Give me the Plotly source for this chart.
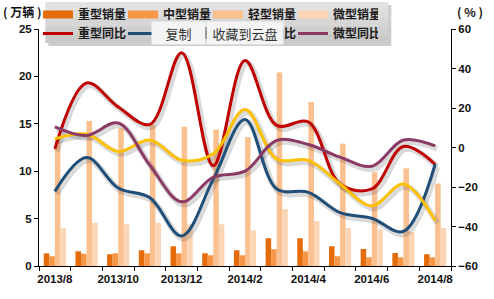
import plotly.graph_objects as go

months = ["2013/8", "2013/9", "2013/10", "2013/11", "2013/12", "2014/1", "2014/2",
          "2014/3", "2014/4", "2014/5", "2014/6", "2014/7", "2014/8"]

# sales (万辆)
heavy_sales = [1.34, 1.55, 1.24, 1.66, 2.08, 1.34, 1.66, 2.93, 2.93, 2.08, 1.80, 1.37, 1.24]
medium_sales = [1.03, 1.30, 1.34, 1.34, 1.34, 1.13, 1.13, 1.77, 1.55, 1.03, 0.92, 0.92, 0.92]
light_sales = [13.5, 15.3, 14.5, 14.9, 14.7, 14.4, 13.6, 20.4, 17.3, 12.9, 9.9, 10.3, 8.7]
micro_sales = [3.98, 4.55, 4.40, 4.55, 4.40, 4.40, 3.77, 6.00, 4.76, 4.00, 3.88, 3.60, 4.00]

# year-on-year (%)
heavy_yoy = [-0.7, 32.7, 20.5, 11.7, 48.0, -9.2, 44.0, 11.2, 12.9, -18.5, -21.0, 0.5, -8.5]
medium_yoy = [-22.2, -5.1, -20.5, -25.5, -44.8, -16.0, 14.2, -21.0, -22.7, -33.0, -35.8, -42.5, -8.5]
light_yoy = [4.4, 6.8, -2.0, 3.8, -6.4, -3.2, 19.3, -5.8, -6.5, -18.5, -29.5, -18.5, -37.0]
micro_yoy = [10.5, 6.1, 12.4, -9.0, -27.5, -15.0, -12.0, 3.6, 1.5, -4.9, -9.5, 3.8, 0.8]

sales_names = ["重型销量", "中型销量", "轻型销量", "微型销量"]
yoy_names = ["重型同比", "中型同比", "轻型同比", "微型同比"]
bar_colors = ["#E46C0A", "#F79646", "#FAC090", "#FCD5B5"]
line_colors = ["#C00000", "#1F4E79", "#FFC000", "#8B3A66"]

x = list(range(len(months)))
W, H = 494, 299
L, R, T, B = 38.7, 450.7, 29.0, 265.7
pw, ph = R - L, B - T

def px(v):
    return (v - L) / pw

def py(v):
    return (B - v) / ph

FONT = "Liberation Sans, Arial, sans-serif"
CJK = "Noto Sans CJK SC"

fig = go.Figure()

# bars
for name, vals, col in zip(sales_names, [heavy_sales, medium_sales, light_sales, micro_sales], bar_colors):
    fig.add_trace(go.Bar(x=x, y=vals, name=name, marker=dict(color=col, line=dict(width=0)),
                         showlegend=False, xaxis="x", yaxis="y"))

# line shadows (same data, drawn on a slightly shifted invisible axis pair)
for vals in [heavy_yoy, medium_yoy, light_yoy, micro_yoy]:
    fig.add_trace(go.Scatter(x=x, y=vals, mode="lines", line=dict(color="rgba(70,70,70,0.2)", width=6,
                             shape="spline", smoothing=1.0), showlegend=False, hoverinfo="skip",
                             xaxis="x2", yaxis="y2"))

# lines
for name, vals, col in zip(yoy_names, [heavy_yoy, medium_yoy, light_yoy, micro_yoy], line_colors):
    fig.add_trace(go.Scatter(x=x, y=vals, name=name, mode="lines",
                             line=dict(color=col, width=3, shape="spline", smoothing=1.0),
                             xaxis="x3", yaxis="y3", legend="legend2"))

# legend proxies for bars
for name, col in zip(sales_names, bar_colors):
    fig.add_trace(go.Scatter(x=[None], y=[None], name=name, mode="lines",
                             line=dict(color=col, width=8), xaxis="x", yaxis="y", legend="legend"))

tick_font = dict(family=FONT, size=11.5, color="#111111", weight="bold")
leg_font = dict(family=CJK, size=12, color="#1a1a1a", weight="bold")

shift_px = 2.5
rng2 = [-60, 60]
d = shift_px * 120 / ph
xshift = 2.0 / (pw / 13)

# legend box with a soft vertical gradient (stacked bands) and a shadow
box_shapes = [
    dict(type="rect", xref="paper", yref="paper", x0=px(48), x1=px(391), y0=py(46), y1=py(5),
         fillcolor="rgba(0,0,0,0.2)", line=dict(width=0), layer="above"),
]
band_cols = ["#E2E2E2", "#DCDCDC", "#D6D6D6", "#D0D0D0", "#CACACA"]
top, bot = 2.0, 43.0
step = (bot - top) / len(band_cols)
for i, c in enumerate(band_cols):
    box_shapes.append(dict(type="rect", xref="paper", yref="paper", x0=px(45), x1=px(388),
                           y0=py(top + (i + 1) * step), y1=py(top + i * step),
                           fillcolor=c, line=dict(width=0), layer="above"))

fig.update_layout(
    width=W, height=H,
    margin=dict(l=L, r=W - R, t=T, b=H - B, autoexpand=False),
    paper_bgcolor="white", plot_bgcolor="white",
    barmode="group", bargap=0.3, bargroupgap=0,
    showlegend=True,
    xaxis=dict(range=[-0.5, 12.5], tickmode="array", tickvals=x[::2], ticktext=months[::2],
               ticks="", showline=True, linecolor="black", linewidth=1, showgrid=False, zeroline=False,
               tickfont=tick_font, ticklabelstandoff=2,
               minor=dict(tickmode="array", tickvals=[i - 0.5 for i in range(14)], ticks="outside",
                          ticklen=4, tickcolor="black", tickwidth=1, showgrid=False)),
    xaxis2=dict(range=[-0.5 - xshift, 12.5 - xshift], overlaying="x", visible=False),
    xaxis3=dict(range=[-0.5, 12.5], overlaying="x", visible=False),
    yaxis=dict(range=[0, 25], tickvals=[0, 5, 10, 15, 20, 25], ticks="outside", ticklen=4,
               tickcolor="black", showline=True, linecolor="black", linewidth=1, showgrid=False,
               zeroline=False, tickfont=tick_font),
    yaxis2=dict(range=[rng2[0] + d, rng2[1] + d], overlaying="y", visible=False),
    yaxis3=dict(range=rng2, tickvals=[-60, -40, -20, 0, 20, 40, 60], ticks="outside", ticklen=4,
                tickcolor="black", showline=True, linecolor="black", linewidth=1, showgrid=False,
                zeroline=False, overlaying="y", side="right", anchor="x3", tickfont=tick_font),
    legend=dict(orientation="h", xref="container", yref="container", x=38 / W, y=1.0,
                xanchor="left", yanchor="top", bgcolor="rgba(0,0,0,0)", font=leg_font,
                entrywidth=40, itemwidth=30, tracegroupgap=0),
    legend2=dict(orientation="h", xref="container", yref="container", x=38 / W, y=1 - 19 / H,
                 xanchor="left", yanchor="top", bgcolor="rgba(0,0,0,0)", font=leg_font,
                 entrywidth=40, itemwidth=30, tracegroupgap=0),
    shapes=box_shapes,
    annotations=[
        dict(text="( 万辆 )", xref="paper", yref="paper", x=px(1), y=py(12), showarrow=False,
             xanchor="left", yanchor="middle",
             font=dict(family=CJK, size=12, color="#111111", weight="bold")),
        dict(text="( % )", xref="paper", yref="paper", x=px(470), y=py(12), showarrow=False,
             xanchor="center", yanchor="middle",
             font=dict(family=CJK, size=12, color="#111111", weight="bold")),
        dict(text="复制", xref="paper", yref="paper", x=px(178.5), y=py(33), showarrow=False,
             xanchor="center", yanchor="middle",
             width=53, height=22, bgcolor="#F4F4F4", borderpad=0,
             font=dict(family=CJK, size=13, color="#333333")),
        dict(text="收藏到云盘", xref="paper", yref="paper", x=px(245), y=py(33), showarrow=False,
             xanchor="center", yanchor="middle",
             width=76, height=22, bgcolor="#F4F4F4", borderpad=0,
             font=dict(family=CJK, size=13, color="#333333")),
    ],
)

fig.write_html("out.html")
